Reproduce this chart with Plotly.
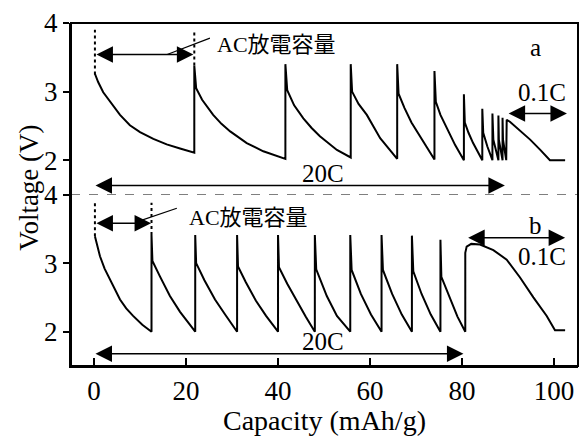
import plotly.graph_objects as go

# ---- data ----
# panel a: 20C pulsed discharge with AC rests, then 0.1C
a_cap = [0.2, 0.9, 2.0, 3.5, 5.65, 7.8, 10.0, 12.9, 15.8, 18.7, 21.8,
         21.8, 22.2, 23.5, 25.9, 27.7, 29.6, 33.2, 36.8, 41.6,
         41.6, 42.0, 43.5, 45.5, 47.3, 49.1, 52.8, 55.8,
         55.8, 56.1, 57.5, 59.3, 62.2, 65.9,
         65.9, 66.2, 67.5, 69.0, 71.5, 74.0,
         74.0, 74.3, 75.3, 76.5, 78.5, 80.4,
         80.4, 80.6, 81.4, 82.4, 84.4,
         84.4, 84.6, 85.5, 86.6,
         86.6, 86.8, 87.9,
         87.9, 88.0, 88.8,
         88.8, 88.9, 89.6,
         89.7, 90.4, 92.5, 94.8, 97.0, 99.1, 102.4]
a_volt = [3.26, 3.14, 2.99, 2.85, 2.66, 2.51, 2.41, 2.31, 2.23, 2.17, 2.11,
          3.38, 3.05, 2.88, 2.66, 2.53, 2.42, 2.25, 2.13, 2.02,
          3.40, 3.02, 2.80, 2.61, 2.47, 2.35, 2.15, 2.04,
          3.40, 3.00, 2.82, 2.66, 2.32, 2.02,
          3.40, 2.97, 2.76, 2.55, 2.27, 2.01,
          3.30, 2.85, 2.66, 2.50, 2.22, 2.00,
          2.96, 2.55, 2.40, 2.25, 2.00,
          2.75, 2.40, 2.20, 2.00,
          2.68, 2.30, 2.00,
          2.65, 2.30, 2.00,
          2.62, 2.30, 2.00,
          2.59, 2.56, 2.44, 2.30, 2.15, 2.00, 2.00]

# panel b
b_cap = [0.2, 0.7, 1.3, 2.3, 3.5, 4.5, 5.65, 7.0, 8.5, 10.5, 12.5,
         12.5, 12.7, 14.3, 16.5, 18.7, 22.0,
         22.0, 22.2, 24.0, 26.3, 28.5, 31.1,
         31.1, 31.3, 33.0, 35.2, 37.4, 40.0,
         40.0, 40.2, 42.0, 44.0, 46.0, 48.0,
         48.0, 48.3, 50.6, 52.8, 55.7,
         55.7, 56.0, 58.0, 60.2, 62.5,
         62.5, 62.8, 64.8, 66.9, 69.1,
         69.1, 69.4, 71.2, 73.2, 75.3,
         75.3, 75.5, 77.0, 79.0, 80.7,
         80.7, 81.0, 82.0, 83.9, 86.8, 89.7, 92.6, 95.5, 98.4, 100.2, 102.4]
b_volt = [3.39, 3.25, 3.10, 2.92, 2.76, 2.61, 2.47, 2.34, 2.23, 2.10, 2.00,
          3.41, 3.03, 2.81, 2.52, 2.29, 2.00,
          3.41, 3.00, 2.75, 2.47, 2.25, 2.00,
          3.41, 2.95, 2.72, 2.45, 2.23, 2.00,
          3.41, 2.94, 2.70, 2.45, 2.22, 2.00,
          3.41, 2.91, 2.52, 2.23, 2.00,
          3.41, 2.90, 2.55, 2.25, 2.00,
          3.41, 2.90, 2.55, 2.25, 2.00,
          3.40, 2.88, 2.55, 2.25, 2.00,
          3.34, 2.80, 2.55, 2.22, 2.00,
          3.15, 3.24, 3.28, 3.27, 3.19, 3.05, 2.79, 2.50, 2.23, 2.02, 2.02]

x_ticks = [0, 20, 40, 60, 80, 100]
y_ticks = [2, 3, 4]

SERIF = "Liberation Serif, Times New Roman, serif"
CJK = "Liberation Serif, Noto Sans CJK JP, serif"

fig = go.Figure()
fig.add_trace(go.Scatter(x=a_cap, y=a_volt, mode="lines", xaxis="x", yaxis="y2",
                         line=dict(color="black", width=2), showlegend=False))
fig.add_trace(go.Scatter(x=b_cap, y=b_volt, mode="lines", xaxis="x", yaxis="y",
                         line=dict(color="black", width=2), showlegend=False))

axis_common = dict(showgrid=False, zeroline=False, showline=True, linecolor="black",
                   linewidth=2, tickcolor="black", tickwidth=2,
                   tickfont=dict(family=SERIF, size=27, color="black"))
fig.update_layout(
    width=586, height=436,
    margin=dict(l=71, r=8, t=20, b=68),
    paper_bgcolor="white", plot_bgcolor="white",
    xaxis=dict(range=[-5, 105.2], tickvals=x_ticks, ticks="inside", ticklen=8,
               title=dict(text="Capacity (mAh/g)", font=dict(family=SERIF, size=28, color="black"),
                          standoff=2),
               anchor="y", **axis_common),
    yaxis=dict(domain=[0, 0.5], range=[1.5, 4], tickvals=y_ticks, ticks="outside",
               ticklen=6, anchor="x", **axis_common),
    yaxis2=dict(domain=[0.5, 1], range=[1.5, 4], tickvals=y_ticks, ticks="outside",
                ticklen=6, anchor="x", **axis_common),
)

# frame and divider
fig.add_shape(type="rect", xref="paper", yref="paper", x0=0, x1=1, y0=0, y1=1,
              line=dict(color="black", width=2))
fig.add_shape(type="line", xref="paper", yref="y", x0=0, x1=1, y0=4, y1=4,
              line=dict(color="black", width=1, dash="dash"))

# dotted markers for AC capacity
for xv, y0, y1, yr in [(0.2, 3.25, 3.9, "y2"), (21.8, 3.38, 3.9, "y2"),
                       (0.2, 3.39, 3.88, "y"), (12.5, 3.41, 3.88, "y")]:
    fig.add_shape(type="line", xref="x", yref=yr, x0=xv, x1=xv, y0=y0, y1=y1,
                  line=dict(color="black", width=2, dash="dot"))

def darrow(x0, x1, y, yr):
    fig.add_annotation(x=x1, y=y, ax=x0, ay=y, xref="x", yref=yr, axref="x", ayref=yr,
                       text="", showarrow=True, arrowhead=2, arrowside="end+start",
                       arrowsize=2.2, arrowwidth=1.5, arrowcolor="black",
                       standoff=0, startstandoff=0)

darrow(0.2, 21.6, 3.54, "y2")
darrow(0.0, 89.3, 1.63, "y2")
darrow(89.8, 102.8, 2.68, "y2")
darrow(0.2, 12.4, 3.58, "y")
darrow(0.0, 80.3, 1.68, "y")
darrow(81.0, 102.4, 3.37, "y")

# leader lines
fig.add_shape(type="line", xref="x", yref="y2", x0=25.2, x1=15.9, y0=3.78, y1=3.54,
              line=dict(color="black", width=1.2))
fig.add_shape(type="line", xref="x", yref="y", x0=18.0, x1=9.3, y0=3.80, y1=3.60,
              line=dict(color="black", width=1.2))

def label(x, y, yr, text, size=25, anchor="center", fam=SERIF):
    fig.add_annotation(x=x, y=y, xref="x", yref=yr, text=text, showarrow=False,
                       xanchor=anchor, yanchor="middle",
                       font=dict(family=fam, size=size, color="black"))

label(26.3, 3.68, "y2", "AC放電容量", 22, "left", CJK)
label(20.2, 3.67, "y", "AC放電容量", 22, "left", CJK)
label(95.9, 3.64, "y2", "a")
label(95.9, 3.55, "y", "b")
label(97.4, 2.99, "y2", "0.1C")
label(97.4, 3.09, "y", "0.1C")
label(49.8, 1.81, "y2", "20C")
label(49.8, 1.86, "y", "20C")

fig.add_annotation(xref="paper", yref="paper", x=0, y=0.52, xshift=-42,
                   text="Voltage (V)", textangle=-90, showarrow=False,
                   xanchor="center", yanchor="middle",
                   font=dict(family=SERIF, size=27, color="black"))

fig.write_html("out.html")
